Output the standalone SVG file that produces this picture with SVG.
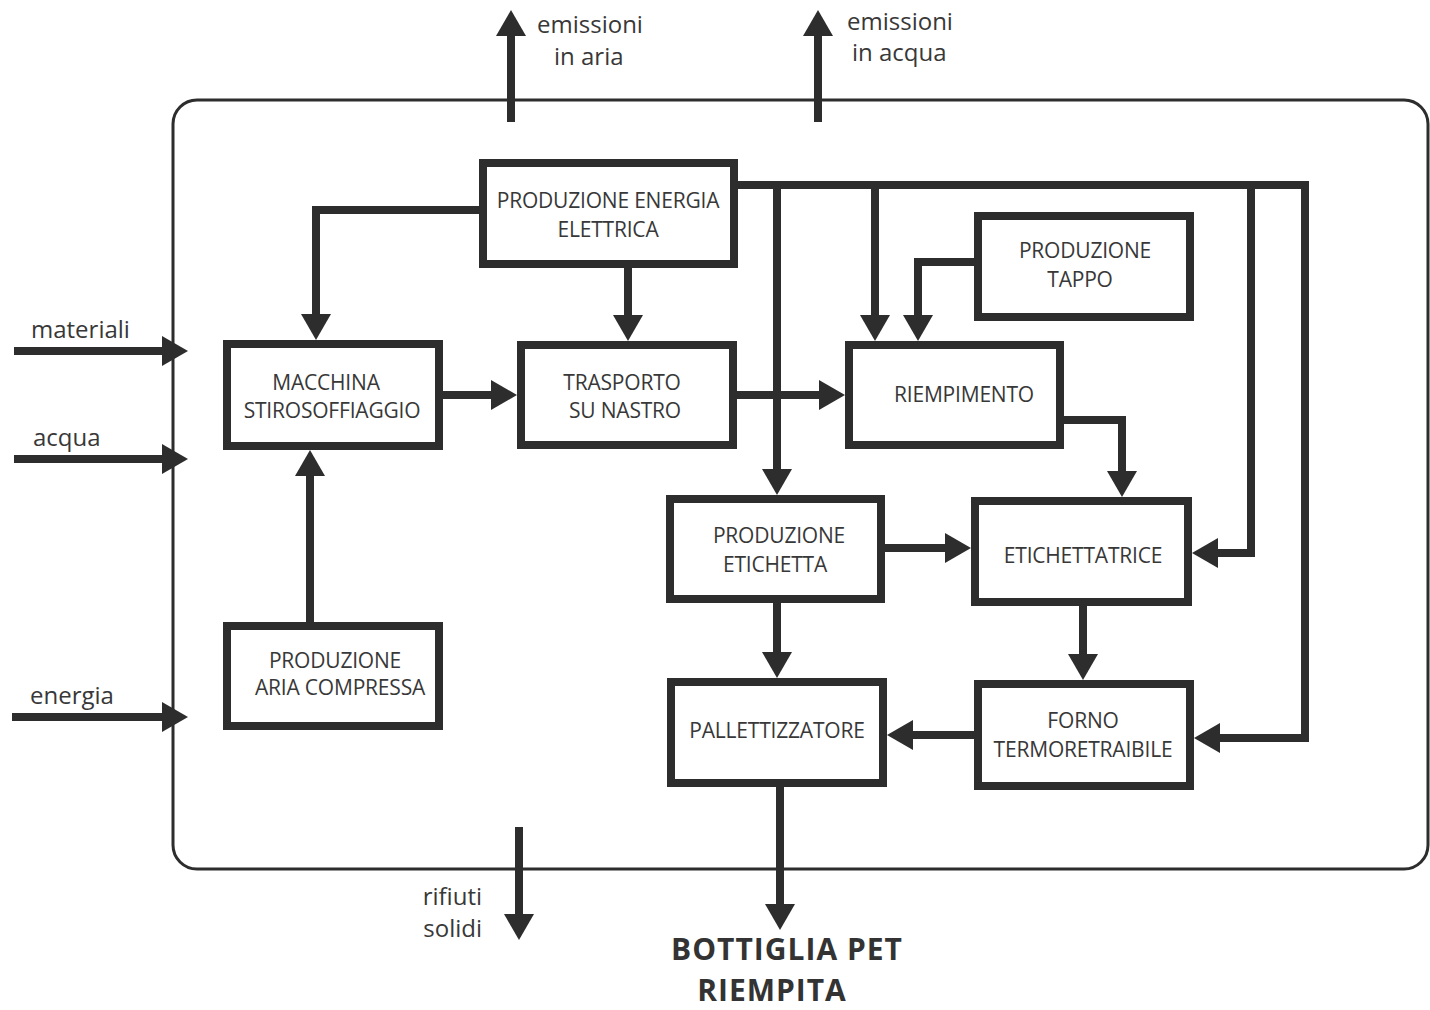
<svg xmlns="http://www.w3.org/2000/svg" width="1430" height="1010" viewBox="0 0 1430 1010">
<style>
.box{fill:#fff;stroke:#2d2d2d;stroke-width:8}
.bt{font-family:"Open Sans","Liberation Sans",sans-serif;font-size:21px;fill:#383838;text-anchor:middle;letter-spacing:-0.2px}
.lbl{font-family:"Open Sans","Liberation Sans",sans-serif;font-size:24px;fill:#383838}
.c{fill:none;stroke:#2d2d2d;stroke-width:8;stroke-linejoin:miter;stroke-linecap:butt}
.out{font-family:"Open Sans","Liberation Sans",sans-serif;font-size:30px;font-weight:bold;fill:#333;text-anchor:middle;letter-spacing:1px}
</style>
<defs>
<marker id="ah" viewBox="0 -15 26 30" refX="2" refY="0" markerWidth="26" markerHeight="30" markerUnits="userSpaceOnUse" orient="auto">
<path d="M0,-15 L26,0 L0,15 z" fill="#2d2d2d"/>
</marker>
</defs>
<rect id="boundary" x="173" y="100" width="1255" height="769" rx="24" fill="none" stroke="#2d2d2d" stroke-width="3"/>
<g id="connectors">
<path class="c" d="M511,122 V34" marker-end="url(#ah)"/>
<path class="c" d="M818,122 V34" marker-end="url(#ah)"/>
<path class="c" d="M14,351 H164" marker-end="url(#ah)"/>
<path class="c" d="M14,459 H164" marker-end="url(#ah)"/>
<path class="c" d="M12,717 H164" marker-end="url(#ah)"/>
<path class="c" d="M483,210 H316 V316" marker-end="url(#ah)"/>
<path class="c" d="M628,264 V317" marker-end="url(#ah)"/>
<path class="c" d="M734,185 H1305 V738 H1218" marker-end="url(#ah)"/>
<path class="c" d="M1251,185 V553 H1216" marker-end="url(#ah)"/>
<path class="c" d="M875,185 V317" marker-end="url(#ah)"/>
<path class="c" d="M978,262 H918 V317" marker-end="url(#ah)"/>
<path class="c" d="M310,626 V474" marker-end="url(#ah)"/>
<path class="c" d="M439,395 H493" marker-end="url(#ah)"/>
<path class="c" d="M733,395 H821" marker-end="url(#ah)"/>
<path class="c" d="M777,185 V471" marker-end="url(#ah)"/>
<path class="c" d="M1060,420 H1122 V473" marker-end="url(#ah)"/>
<path class="c" d="M881,548 H947" marker-end="url(#ah)"/>
<path class="c" d="M1083,602 V656" marker-end="url(#ah)"/>
<path class="c" d="M978,735 H911" marker-end="url(#ah)"/>
<path class="c" d="M777,599 V654" marker-end="url(#ah)"/>
<path class="c" d="M780,783 V906" marker-end="url(#ah)"/>
<path class="c" d="M519,827 V916" marker-end="url(#ah)"/>
</g>
<g id="n-energia"><rect class="box" x="483" y="163" width="251" height="101"/>
<text class="bt" x="608" y="208">PRODUZIONE ENERGIA</text><text class="bt" x="608" y="237">ELETTRICA</text></g>
<g id="n-macchina"><rect class="box" x="227" y="344" width="212" height="102"/>
<text class="bt" x="326" y="390">MACCHINA</text><text class="bt" x="332" y="418">STIROSOFFIAGGIO</text></g>
<g id="n-trasporto"><rect class="box" x="521" y="345" width="212" height="100"/>
<text class="bt" x="622" y="390">TRASPORTO</text><text class="bt" x="625" y="418">SU NASTRO</text></g>
<g id="n-riempimento"><rect class="box" x="849" y="345" width="211" height="100"/>
<text class="bt" x="964" y="402">RIEMPIMENTO</text></g>
<g id="n-tappo"><rect class="box" x="978" y="216" width="212" height="101"/>
<text class="bt" x="1085" y="258">PRODUZIONE</text><text class="bt" x="1080" y="287">TAPPO</text></g>
<g id="n-aria"><rect class="box" x="227" y="626" width="212" height="100"/>
<text class="bt" x="335" y="668">PRODUZIONE</text><text class="bt" x="340" y="695">ARIA COMPRESSA</text></g>
<g id="n-etichetta"><rect class="box" x="670" y="499" width="211" height="100"/>
<text class="bt" x="779" y="543">PRODUZIONE</text><text class="bt" x="775" y="572">ETICHETTA</text></g>
<g id="n-etichettatrice"><rect class="box" x="975" y="501" width="213" height="101"/>
<text class="bt" x="1083" y="563">ETICHETTATRICE</text></g>
<g id="n-forno"><rect class="box" x="978" y="684" width="212" height="102"/>
<text class="bt" x="1083" y="728">FORNO</text><text class="bt" x="1083" y="757">TERMORETRAIBILE</text></g>
<g id="n-pallettizzatore"><rect class="box" x="671" y="682" width="212" height="101"/>
<text class="bt" x="777" y="738">PALLETTIZZATORE</text></g>
<g id="labels">
<text class="lbl" x="537" y="33">emissioni</text><text class="lbl" x="554" y="65">in aria</text>
<text class="lbl" x="847" y="30">emissioni</text><text class="lbl" x="852" y="61">in acqua</text>
<text class="lbl" x="31" y="338">materiali</text>
<text class="lbl" x="33" y="446">acqua</text>
<text class="lbl" x="30" y="704">energia</text>
<text class="lbl" x="482" y="905" text-anchor="end">rifiuti</text>
<text class="lbl" x="482" y="937" text-anchor="end">solidi</text>
<text class="out" x="787" y="960">BOTTIGLIA PET</text>
<text class="out" x="772" y="1001">RIEMPITA</text>
</g>
</svg>
